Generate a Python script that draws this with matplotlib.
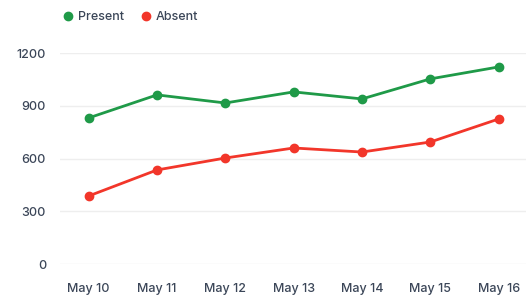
import matplotlib
matplotlib.use("Agg")
import matplotlib.pyplot as plt

dates = ["May 10", "May 11", "May 12", "May 13", "May 14", "May 15", "May 16"]
present = [831, 962, 916, 979, 939, 1053, 1121]
absent = [387, 535, 603, 660, 637, 694, 825]
yticks = [0, 300, 600, 900, 1200]

plt.rcParams['font.family'] = ['Inter', 'DejaVu Sans']

fig = plt.figure(figsize=(5.26, 2.98), dpi=100)
ax = fig.add_axes([0.114, 0.114, 0.886, 0.708])

green = "#1f9a48"
red = "#f2362a"
x = list(range(len(dates)))
ax.plot(x, present, color=green, lw=2, marker='o', ms=6, label="Present", clip_on=False)
ax.plot(x, absent, color=red, lw=2, marker='o', ms=6, label="Absent", clip_on=False)

ax.set_xlim(-0.42, 6.4)
ax.set_ylim(0, 1200)
ax.set_yticks(yticks)
ax.set_xticks(x)
ax.set_xticklabels(dates)
for s in ax.spines.values():
    s.set_visible(False)
ax.grid(axis='y', color='#eeeeee', lw=1)
ax.set_axisbelow(True)
ax.tick_params(length=0, labelsize=9, colors='#3b4658')
ax.tick_params(axis='x', pad=14)
ax.tick_params(axis='y', pad=10)
for t in ax.get_xticklabels() + ax.get_yticklabels():
    t.set_fontweight('medium')

leg = fig.legend(loc='upper left', bbox_to_anchor=(0.1, 1.0), ncol=2, frameon=False,
                 handlelength=0.6, handletextpad=0.5, columnspacing=1.5,
                 prop={'size': 9, 'weight': 'medium'})
for h in leg.legend_handles:
    h.set_linestyle('')
for t in leg.get_texts():
    t.set_color('#3b4658')

fig.savefig("out.png", dpi=100)
